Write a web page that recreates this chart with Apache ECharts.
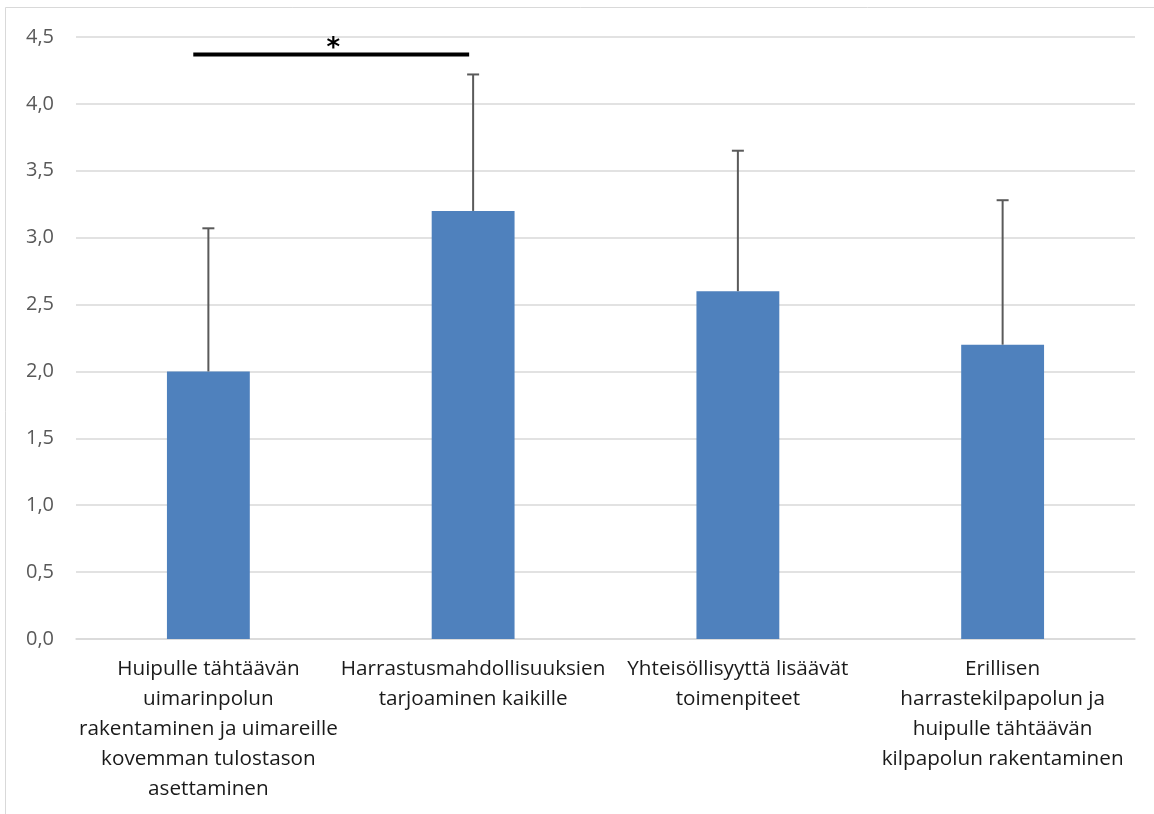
<!DOCTYPE html>
<html>
<head>
<meta charset="utf-8">
<script src="https://cdn.jsdelivr.net/npm/echarts@6/dist/echarts.min.js"></script>
<style>
  html, body { margin: 0; padding: 0; background: #fff; }
  #chart { width: 1154px; height: 814px; }
</style>
</head>
<body>
<div id="chart"></div>
<script>
// Category names (line breaks as they wrap under the bars)
const categories = [
  'Huipulle tähtäävän\nuimarinpolun\nrakentaminen ja uimareille\nkovemman tulostason\nasettaminen',
  'Harrastusmahdollisuuksien\ntarjoaminen kaikille',
  'Yhteisöllisyyttä lisäävät\ntoimenpiteet',
  'Erillisen\nharrastekilpapolun ja\nhuipulle tähtäävän\nkilpapolun rakentaminen'
];
// Mean scores
const means = [2.0, 3.2, 2.6, 2.2];
// Standard deviations (drawn upward only)
const sds = [1.07, 1.02, 1.05, 1.08];
// Significant difference between the first two categories
const sigPair = [0, 1];
const sigLevel = 4.37;
const sigMark = '*';
// Y axis ticks
const yMin = 0, yMax = 4.5, yStep = 0.5;

const errData = means.map((m, i) => [i, m, m + sds[i]]);

const FONT = '"Open Sans", Lato, sans-serif';
const chart = echarts.init(document.getElementById('chart'), null, { renderer: 'canvas' });

chart.setOption({
  animation: false,
  backgroundColor: '#ffffff',
  textStyle: { fontFamily: FONT },
  grid: { left: 76, right: 19, top: 37, bottom: 175, containLabel: false },
  graphic: [{
    type: 'rect',
    shape: { x: 5.5, y: 7.5, width: 1300, height: 1000 },
    style: { fill: 'none', stroke: '#d9d9d9', lineWidth: 1 },
    silent: true, z: -1
  }],
  xAxis: {
    type: 'category',
    data: categories,
    axisLine: { show: true, lineStyle: { color: '#d9d9d9', width: 1.5 } },
    axisTick: { show: false },
    axisLabel: {
      interval: 0,
      color: '#1a1a1a',
      fontSize: 20.7,
      lineHeight: 30,
      margin: 15,
      fontFamily: FONT
    }
  },
  yAxis: {
    type: 'value',
    min: yMin, max: yMax, interval: yStep,
    axisLine: { show: false },
    axisTick: { show: false },
    splitLine: { lineStyle: { color: '#d9d9d9', width: 1.5 } },
    axisLabel: {
      color: '#595959',
      fontSize: 20,
      margin: 22,
      fontFamily: FONT,
      formatter: v => v.toFixed(1).replace('.', ',')
    }
  },
  series: [
    {
      type: 'bar',
      data: means,
      barWidth: '31.3%',
      itemStyle: { color: '#4f81bd' },
      z: 2
    },
    {
      type: 'custom',
      data: errData,
      z: 3,
      renderItem: (params, api) => {
        const x = api.value(0);
        const base = api.coord([x, api.value(1)]);
        const top = api.coord([x, api.value(2)]);
        const cap = 6;
        const style = { stroke: '#5a5a5a', lineWidth: 2 };
        return {
          type: 'group',
          children: [
            { type: 'line', shape: { x1: base[0], y1: base[1], x2: top[0], y2: top[1] }, style },
            { type: 'line', shape: { x1: top[0] - cap, y1: top[1], x2: top[0] + cap, y2: top[1] }, style }
          ]
        };
      }
    },
    {
      type: 'custom',
      data: [[sigPair[0], sigPair[1], sigLevel]],
      z: 4,
      renderItem: (params, api) => {
        const band = api.size([1, 0])[0];
        const a = api.coord([api.value(0), api.value(2)]);
        const b = api.coord([api.value(1), api.value(2)]);
        const x1 = a[0] - band * 0.057;
        const x2 = b[0] - band * 0.015;
        return {
          type: 'group',
          children: [
            { type: 'line', shape: { x1, y1: a[1], x2, y2: b[1] }, style: { stroke: '#000', lineWidth: 4 } },
            {
              type: 'text',
              style: {
                text: sigMark, x: (x1 + x2) / 2 + 2, y: a[1] + 7.5,
                align: 'center', verticalAlign: 'bottom',
                fill: '#000', fontSize: 26, fontWeight: 'bold',
                fontFamily: '"DejaVu Sans", sans-serif'
              }
            }
          ]
        };
      }
    }
  ]
});
</script>
</body>
</html>
